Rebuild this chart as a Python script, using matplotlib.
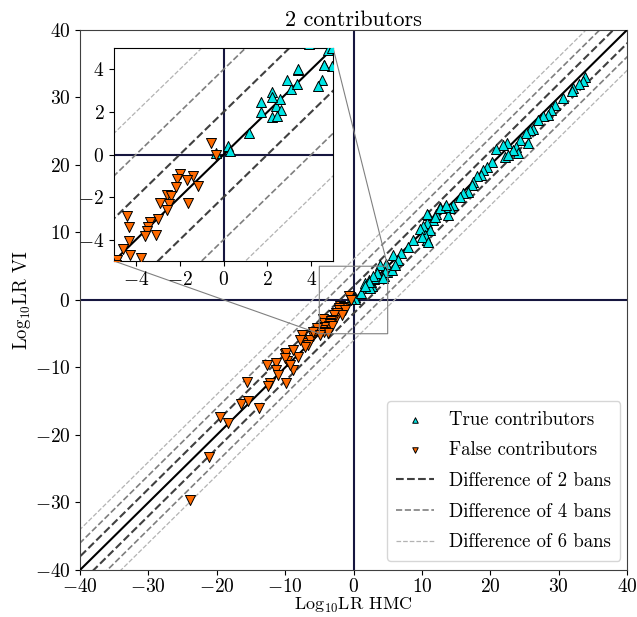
import matplotlib
matplotlib.use('Agg')
import matplotlib.pyplot as plt
import numpy as np

plt.rcParams['font.family'] = 'cmr10'
plt.rcParams['mathtext.fontset'] = 'cm'
plt.rcParams['axes.formatter.use_mathtext'] = True

# True contributors (HMC, VI)
true_hmc = [0.18, 0.29, -0.35, 1.15, 1.73, 2.22, 2.39, 2.57, 2.64, 2.22, 2.42, 3.07, 3.34, 3.40,
            4.50, 4.6, 4.95, 4.77, 4.95,
            33.8, 33.6, 33.0, 32.1, 31.9, 30.7, 29.4, 28.9, 28.5, 27.7, 27.0, 26.3, 25.8, 25.3,
            25.5, 24.3, 23.8, 24.1, 23.3, 22.4, 21.9, 20.9, 22.1, 22.6, 20.2, 19.5, 19.0, 18.7,
            18.0, 17.5, 17.3, 16.8, 16.0, 15.6, 14.6, 14.1, 13.8, 13.4, 12.6, 12.1, 11.6, 10.9,
            10.7, 10.2, 11.2, 10.7, 10.4,
            10.7, 9.7, 10.0, 10.9, 8.7, 8.0, 7.0, 5.8, 6.5, 4.8, 3.9, 4.6, 3.4, 2.9, 2.2, 1.7,
            4.3, 5.6, 6.1, 12.6, 13.6, 11.9]
true_vi = [0.41, 0.19, 0.09, 1.0, 2.45, 2.95, 2.29, 2.6, 2.07, 1.76, 1.79, 3.09, 3.31, 3.96,
           3.48, 4.22, 4.14, 4.93, 5.0,
           33.1, 32.5, 32.0, 31.4, 30.9, 29.9, 28.9, 28.1, 27.4, 27.2, 26.7, 25.4, 25.2, 24.7,
           23.2, 23.7, 22.7, 21.8, 22.2, 23.2, 23.0, 22.3, 21.2, 21.5, 20.5, 19.7, 19.3, 18.5,
           18.3, 17.5, 17.0, 16.0, 15.8, 15.3, 14.1, 13.6, 12.6, 13.8, 13.8, 12.8, 11.9, 12.6,
           11.4, 10.9, 10.4, 8.9, 9.6,
           12.7, 10.5, 9.4, 8.6, 8.9, 7.9, 6.9, 6.7, 5.9, 5.4, 5.2, 4.2, 4.0, 3.5, 2.7, 2.0,
           3.2, 4.4, 5.2, 13.6, 14.1, 12.3]

# False contributors (HMC, VI)
false_hmc = [-0.59, -0.35, -1.99, -1.41, -1.69, -2.11, -2.16, -1.19, -2.6, -2.4, -2.49, -2.6,
             -1.64, -2.9, -2.98, -4.42, -4.33, -3.36, -3.43, -3.51, -3.59, -3.1, -4.32, -4.57,
             -4.27, -3.77, -4.88,
             -23.9, -21.2, -19.5, -18.3, -15.6, -16.5, -15.5, -13.8, -12.6, -11.3, -10.0, -12.2,
             -12.5, -11.3, -11.0, -9.9, -9.7, -8.9, -8.1, -7.4, -6.9,
             -5.9, -6.4, -6.6, -7.1, -5.4, -5.9, -7.6, -7.8, -9.8, -10.0, -8.8, -9.3, -4.9]
false_vi = [0.53, -0.03, -0.91, -0.99, -1.19, -1.15, -1.51, -1.48, -1.9, -1.93, -2.32, -2.6,
            -2.26, -2.26, -3.01, -2.89, -3.38, -3.16, -3.39, -3.6, -3.81, -3.78, -4.05, -4.43,
            -4.74, -4.88, -4.93,
            -29.6, -23.3, -17.3, -18.2, -12.2, -15.4, -15.0, -16.0, -9.6, -9.4, -8.0, -12.3,
            -12.8, -10.3, -11.1, -12.3, -9.0, -10.3, -8.4, -5.2, -6.4,
            -5.4, -5.9, -6.7, -6.9, -4.2, -4.7, -5.2, -5.9, -7.9, -8.6, -7.4, -9.6, -5.2]

diffs = [2, 4, 6]
# colour, linewidth for each difference line
diff_styles = {2: ('#404040', 1.5), 4: ('#7f7f7f', 1.2), 6: ('#b3b3b3', 0.9)}
navy = '#16163f'


def draw(ax, lo, hi, ms):
    xs = np.array([lo - 20, hi + 20])
    ax.axhline(0, color=navy, lw=1.5, zorder=1)
    ax.axvline(0, color=navy, lw=1.5, zorder=1)
    for d in diffs:
        col, lw = diff_styles[d]
        for sgn in (1, -1):
            ax.plot(xs, xs + sgn * d, color=col, ls='--', lw=lw, zorder=2,
                    label=f'Difference of {d} bans' if sgn == 1 else None)
    ax.plot(xs, xs, color='black', lw=1.5, zorder=3)
    ax.scatter(true_hmc, true_vi, marker='^', s=ms, c='#00e5e5', edgecolors='black',
               linewidths=0.7, zorder=4, label='True contributors')
    ax.scatter(false_hmc, false_vi, marker='v', s=ms, c='#ff6a00', edgecolors='black',
               linewidths=0.7, zorder=4, label='False contributors')
    ax.set_xlim(lo, hi)
    ax.set_ylim(lo, hi)


fig = plt.figure(figsize=(6.37, 6.17), dpi=100)
ax = fig.add_axes([0.1256, 0.0762, 0.8587, 0.8752])
draw(ax, -40, 40, 52)
ax.set_xticks(range(-40, 41, 10))
ax.set_yticks(range(-40, 41, 10))
ax.tick_params(labelsize=14, length=3.5)
ax.tick_params(axis='x', pad=2.5)
for sp in ax.spines.values():
    sp.set_color('#404040')
ax.set_xlabel(r'Log$_{10}$LR HMC', fontsize=13, labelpad=0)
ax.set_ylabel(r'Log$_{10}$LR VI', fontsize=13.5, labelpad=1)
ax.set_title('2 contributors', fontsize=16, pad=3)

handles, labels = ax.get_legend_handles_labels()
order = [labels.index(l) for l in ['True contributors', 'False contributors',
                                   'Difference of 2 bans', 'Difference of 4 bans',
                                   'Difference of 6 bans']]
ax.legend([handles[i] for i in order], [labels[i] for i in order], loc='lower right',
          fontsize=13.5, markerscale=0.55, borderpad=0.5, labelspacing=0.68,
          bbox_to_anchor=(1.005, 0.0))

axins = fig.add_axes([0.179, 0.577, 0.344, 0.345])
draw(axins, -5, 5, 52)
axins.set_xticks([-4, -2, 0, 2, 4])
axins.set_yticks([-4, -2, 0, 2, 4])
axins.tick_params(labelsize=14, length=3.5)

rect, connectors = ax.indicate_inset_zoom(axins, edgecolor='gray', alpha=1, lw=0.8)
for i, c in enumerate(connectors):
    c.set_visible(i in (0, 3))
    c.set_color('gray')
    c.set_linewidth(0.8)

fig.savefig('out.png', dpi=100)
